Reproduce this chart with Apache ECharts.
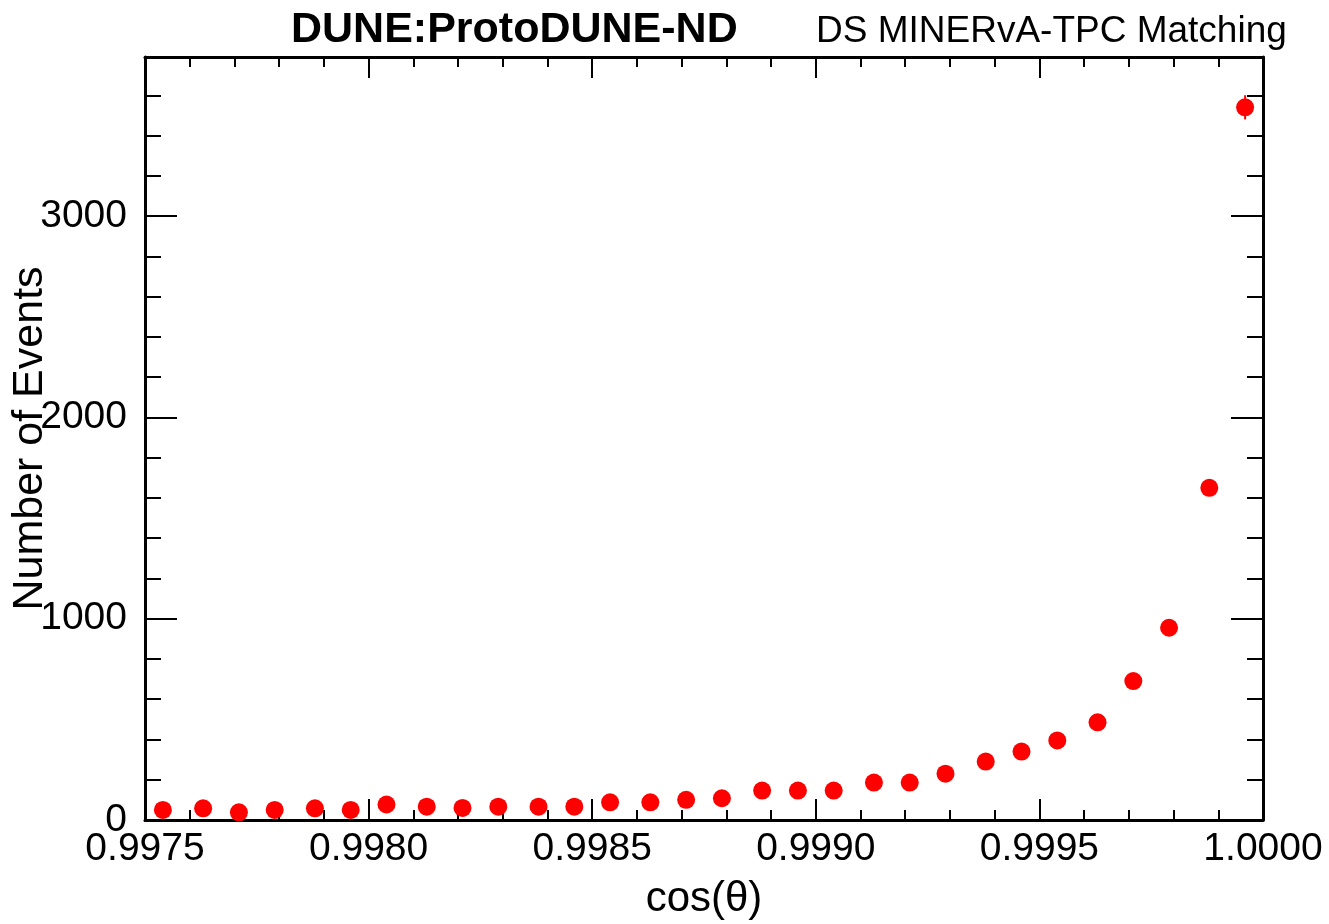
<!DOCTYPE html>
<html>
<head>
<meta charset="utf-8">
<script src="https://cdn.jsdelivr.net/npm/echarts@6/dist/echarts.min.js"></script>
<style>
  html, body { margin: 0; padding: 0; background: #fff; }
  #chart { width: 1329px; height: 924px; }
</style>
</head>
<body>
<div id="chart"></div>
<script>
// bin centres of cos(theta), 30 bins between 0.9975 and 1.0
var binCenters = [0.99754, 0.99763, 0.99771, 0.99779, 0.99788, 0.99796, 0.99804, 0.99813, 0.99821, 0.99829,
  0.99838, 0.99846, 0.99854, 0.99863, 0.99871, 0.99879, 0.99888, 0.99896, 0.99904, 0.99913,
  0.99921, 0.99929, 0.99938, 0.99946, 0.99954, 0.99963, 0.99971, 0.99979, 0.99988, 0.99996];
// number of events per bin
var counts = [50, 58, 38, 50, 58, 50, 77, 66, 60, 66,
  66, 66, 88, 88, 100, 108, 146, 146, 146, 186,
  186, 230, 290, 340, 395, 485, 690, 955, 1650, 3540];
// statistical error per bin
var errors = [7, 8, 6, 7, 8, 7, 9, 8, 8, 8,
  8, 8, 9, 9, 10, 10, 12, 12, 12, 14,
  14, 15, 17, 18, 20, 22, 26, 31, 41, 60];
var yMajor = [0, 1000, 2000, 3000];
var yMinor = [200, 400, 600, 800, 1200, 1400, 1600, 1800, 2200, 2400, 2600, 2800, 3200, 3400, 3600];

var font = 'Liberation Sans, Arial, Helvetica, sans-serif';
var myChart = echarts.init(document.getElementById('chart'));

var pts = binCenters.map(function (x, i) { return [x, counts[i]]; });
var errPts = binCenters.map(function (x, i) { return [x, counts[i], errors[i]]; });

function yAxisCfg(pos, ticks, len, showLine, showLabel) {
  return {
    type: 'value', position: pos, min: 0, max: 3790,
    axisLine: { show: showLine, onZero: false, lineStyle: { color: '#000', width: 3 } },
    axisTick: { show: true, inside: true, length: len, customValues: ticks, lineStyle: { color: '#000', width: 2 } },
    axisLabel: { show: showLabel, customValues: yMajor, margin: 18, fontSize: 39, color: '#000', fontFamily: font,
      formatter: function (v) { return String(v); } },
    splitLine: { show: false }
  };
}

var option = {
  backgroundColor: '#fff',
  animation: false,
  title: [{
    text: 'DUNE:ProtoDUNE-ND', left: 286, top: 4,
    textStyle: { fontSize: 43, fontWeight: 'bold', color: '#000', fontFamily: font }
  }, {
    text: 'DS MINERvA-TPC Matching', left: 811, top: 8,
    textStyle: { fontSize: 37, fontWeight: 'normal', color: '#000', fontFamily: font }
  }],
  grid: { left: 145, right: 66, top: 57, bottom: 104, containLabel: false, outerBoundsMode: 'none' },
  xAxis: [{
    type: 'value', position: 'bottom', min: 0.9975, max: 1.0, interval: 0.0005,
    name: 'cos(θ)', nameLocation: 'middle', nameGap: 58, nameMoveOverlap: false,
    nameTextStyle: { fontSize: 42, color: '#000', fontFamily: font },
    axisLine: { onZero: false, lineStyle: { color: '#000', width: 3 } },
    axisTick: { inside: true, length: 21, lineStyle: { color: '#000', width: 2 } },
    minorTick: { show: true, splitNumber: 5, length: 10, lineStyle: { color: '#000', width: 2 } },
    axisLabel: { margin: 10, fontSize: 39, color: '#000', fontFamily: font,
      formatter: function (v) { return v.toFixed(4); } },
    splitLine: { show: false }
  }, {
    type: 'value', position: 'top', min: 0.9975, max: 1.0, interval: 0.0005,
    axisLine: { onZero: false, lineStyle: { color: '#000', width: 3 } },
    axisTick: { inside: true, length: 21, lineStyle: { color: '#000', width: 2 } },
    minorTick: { show: true, splitNumber: 5, length: 10, lineStyle: { color: '#000', width: 2 } },
    axisLabel: { show: false },
    splitLine: { show: false }
  }],
  yAxis: [
    Object.assign(yAxisCfg('left', yMajor, 32, true, true), {
      name: 'Number of Events', nameLocation: 'middle', nameGap: 93, nameMoveOverlap: false,
      nameTextStyle: { fontSize: 43, color: '#000', fontFamily: font }
    }),
    yAxisCfg('left', yMinor, 16, false, false),
    yAxisCfg('right', yMajor, 32, true, false),
    yAxisCfg('right', yMinor, 16, false, false)
  ],
  series: [{
    type: 'custom',
    xAxisIndex: 0, yAxisIndex: 0,
    clip: false,
    z: 3,
    renderItem: function (params, api) {
      var top = api.coord([api.value(0), api.value(1) + api.value(2)]);
      var bot = api.coord([api.value(0), api.value(1) - api.value(2)]);
      return {
        type: 'line',
        shape: { x1: top[0], y1: top[1], x2: bot[0], y2: bot[1] },
        style: { stroke: '#ff0000', lineWidth: 2 }
      };
    },
    data: errPts
  }, {
    type: 'scatter',
    xAxisIndex: 0, yAxisIndex: 0,
    clip: false,
    z: 4,
    symbol: 'circle',
    symbolSize: 18,
    itemStyle: { color: '#ff0000', opacity: 1 },
    data: pts
  }]
};
myChart.setOption(option);
</script>
</body>
</html>
